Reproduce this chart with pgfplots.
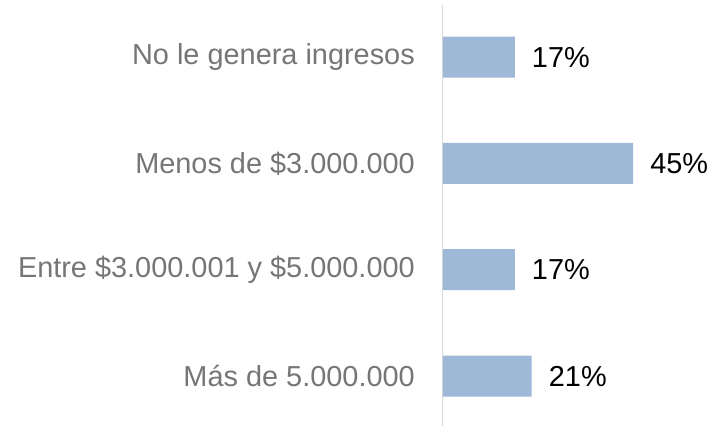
\documentclass[border=0pt]{standalone}
\usepackage{fontspec}
\setmainfont{Liberation Sans}
\usepackage{pgfplots}
\pgfplotsset{compat=1.18}

\definecolor{barblue}{HTML}{9EB9D8}
\definecolor{labelgray}{HTML}{767676}
\definecolor{axisgray}{HTML}{D9D9D9}

\begin{document}
\begin{tikzpicture}
\begin{axis}[
    xbar,
    scale only axis,
    width=272bp, height=421bp,
    xmin=0, xmax=64.4,
    ymin=-0.49, ymax=3.47,
    y dir=reverse,
    bar width=41bp,
    axis x line=none,
    axis y line*=left,
    y axis line style={draw=axisgray, line width=1pt, -},
    ytick={0,1,2,3},
    yticklabels={No le genera ingresos, Menos de \$3.000.000, Entre \$3.000.001 y \$5.000.000, Más de 5.000.000},
    major tick length=0pt,
    yticklabel style={font=\fontsize{29}{32}\selectfont, text=labelgray, inner sep=0pt, xshift=-28bp},
    /pgf/number format/assume math mode=true,
    nodes near coords={\pgfmathprintnumber{\pgfplotspointmeta}\%},
    nodes near coords style={font=\fontsize{29}{32}\selectfont, text=black, inner sep=0pt, xshift=17bp, anchor=west},
    clip=false,
]
\addplot[fill=barblue, draw=none] coordinates {(17,0) (45,1) (17,2) (21,3)};
\end{axis}
\pgfresetboundingbox
\path (-443bp,0) rectangle (272bp,426bp);
\end{tikzpicture}
\end{document}
